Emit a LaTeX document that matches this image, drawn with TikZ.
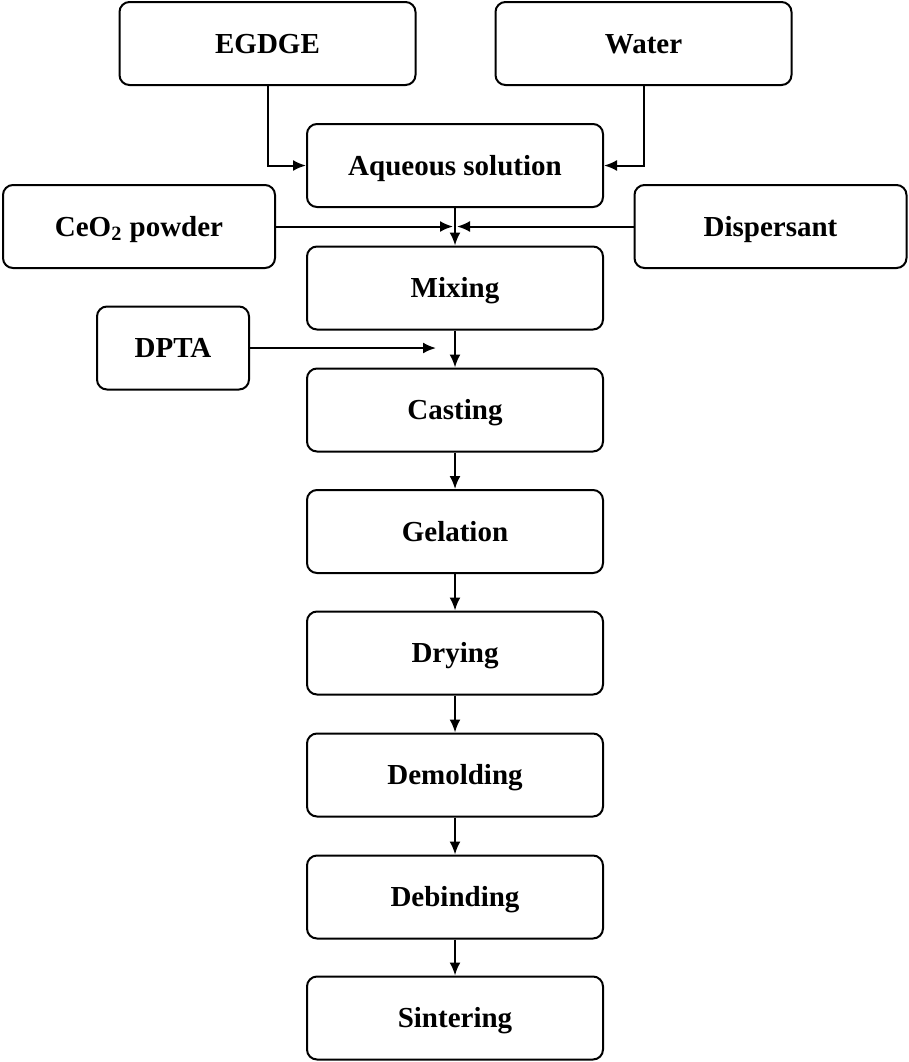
\documentclass[tikz,border=0pt]{standalone}
\usepackage{fontspec}
\setmainfont{Liberation Serif}
\usetikzlibrary{arrows.meta}

\begin{document}
\begin{tikzpicture}[x=0.5pt, y=-0.5pt,
  box/.style={draw, rounded corners=5pt, line width=1pt, minimum width=148pt,
    minimum height=41.5pt, text height=9.8pt, text depth=0pt,
    font=\fontsize{14.5}{17}\selectfont\bfseries},
  flow/.style={arrows={-{Latex[length=6.5pt,width=5.5pt]}}, line width=1pt}]
\useasboundingbox (0,0) rectangle (909,1062);
\node[box] at (267.5,43.5) (egdge) {EGDGE};
\node[box] at (643.5,43.5) (water) {Water};
\node[box] at (455,165.5) (aqueous) {Aqueous solution};
\node[box, minimum width=136pt] at (139,226.5) (ceo) {CeO\textsubscript{2} powder};
\node[box, minimum width=136pt] at (770.5,226.5) (disp) {Dispersant};
\node[box] at (455,288) (mixing) {Mixing};
\node[box, minimum width=76pt] at (173,348) (dpta) {DPTA};
\node[box] at (455,410) (casting) {Casting};
\node[box] at (455,531.5) (gelation) {Gelation};
\node[box] at (455,653) (drying) {Drying};
\node[box] at (455,775) (demolding) {Demolding};
\node[box] at (455,897) (debinding) {Debinding};
\node[box] at (455,1018) (sintering) {Sintering};
\coordinate (mixin) at (455,226.5);
\coordinate (dptain) at (436,348);
%feed lines
\draw[flow] (egdge.south) |- (aqueous.west);
\draw[flow] (water.south) |- (aqueous.east);
\draw[flow] (ceo.east) -- ([xshift=-1pt]mixin);
\draw[flow] (disp.west) -- ([xshift=1pt]mixin);
\draw[flow] (dpta.east) -- (dptain);
%main line
\draw[flow] (aqueous) -- (mixing);
\draw[flow] (mixing) -- (casting);
\draw[flow] (casting) -- (gelation);
\draw[flow] (gelation) -- (drying);
\draw[flow] (drying) -- (demolding);
\draw[flow] (demolding) -- (debinding);
\draw[flow] (debinding) -- (sintering);
\end{tikzpicture}
\end{document}
